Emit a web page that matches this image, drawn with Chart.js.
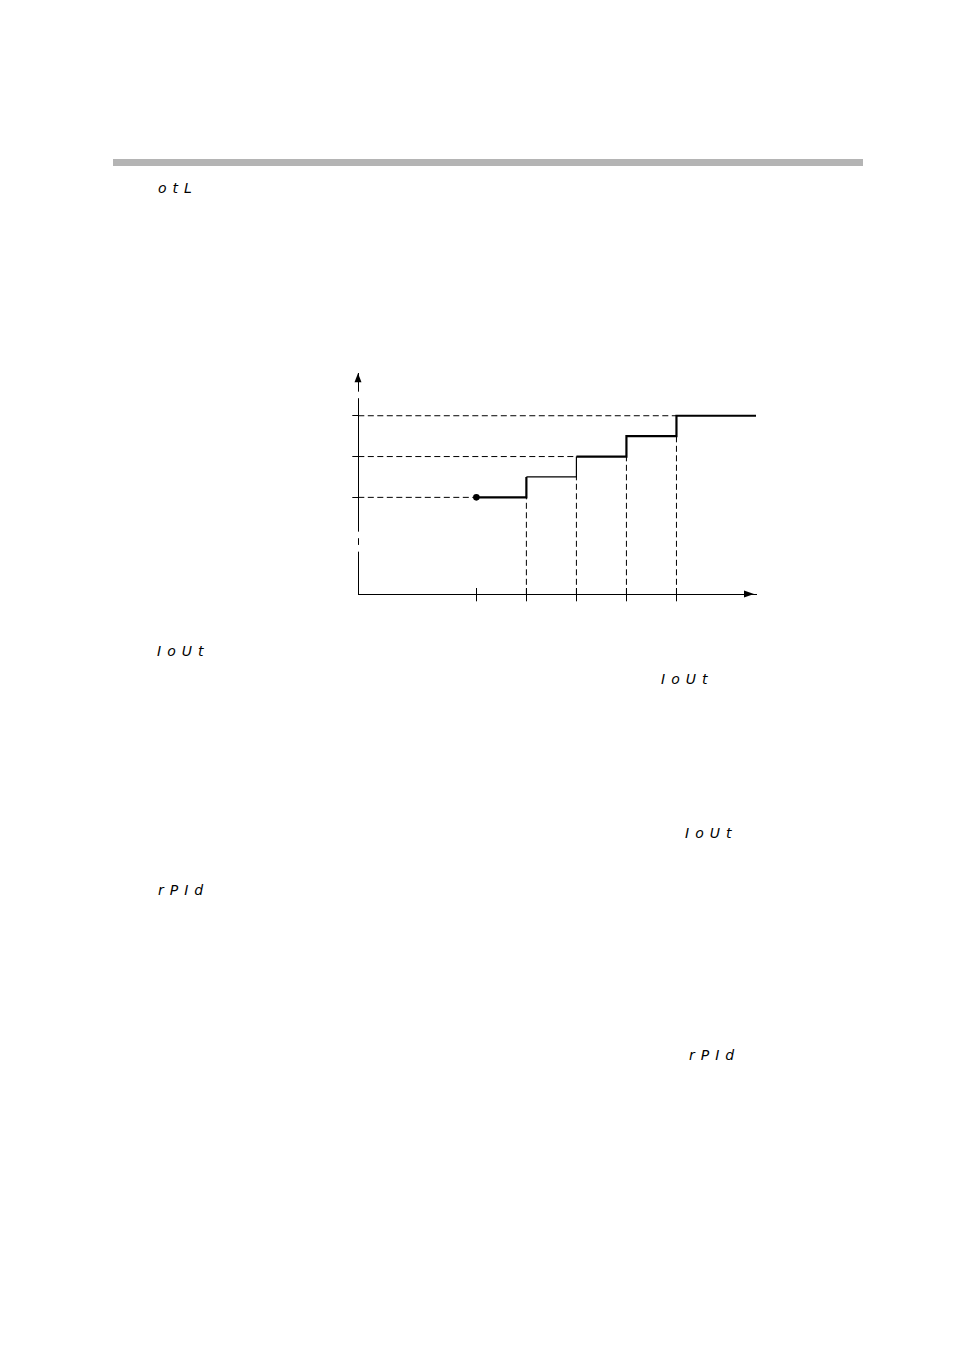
<!DOCTYPE html>
<html>
<head>
<meta charset="utf-8">
<script src="https://cdn.jsdelivr.net/npm/chart.js@4/dist/chart.umd.min.js"></script>
<style>
  body { margin: 0; background: #fff; width: 954px; height: 1351px; position: relative; overflow: hidden; }
  .bar { position: absolute; left: 113px; top: 159px; width: 750px; height: 7px; background: #b4b4b4; }
  .seg { position: absolute; font-family: "DejaVu Sans", sans-serif; font-style: italic; font-size: 14px;
         line-height: 1; letter-spacing: 6px; color: #000; white-space: nowrap; }
  #wrap { position: absolute; left: 300px; top: 360px; width: 480px; height: 260px; }
</style>
</head>
<body>
<div class="bar"></div>
<div class="seg" style="left:158px;top:181px">otL</div>
<div class="seg" style="left:157px;top:644px">IoUt</div>
<div class="seg" style="left:661px;top:672px">IoUt</div>
<div class="seg" style="left:685px;top:826px">IoUt</div>
<div class="seg" style="left:158px;top:883px">rPId</div>
<div class="seg" style="left:689px;top:1048px">rPId</div>
<div id="wrap"><canvas id="chart" width="480" height="260"></canvas></div>
<script>
// step output: x positions of the steps and the level reached at each
const stepX = [2.36, 3.36, 4.36, 5.36, 6.36, 7.95];
const stepY = [4.75, 5.75, 6.75, 7.75, 8.75, 8.75];
const xTicks = [2.36, 3.36, 4.36, 5.36, 6.36];
const yTicks = [4.75, 6.75, 8.75];
const xMax = 7.95;
const yMax = 10.83;

const dash = [6, 3.5];

// horizontal guides from the y axis to where the output reaches that level
const hGuides = yTicks.map(lv => {
  const i = stepY.indexOf(lv);
  return [{ x: 0, y: lv }, { x: stepX[i], y: lv }];
});
// vertical guides from the x axis up to the level just before each step
const vGuides = xTicks.slice(1).map((x, k) => [{ x: x, y: 0 }, { x: x, y: stepY[k] }]);

const guideSet = pts => ({
  data: pts, borderColor: '#000', borderWidth: 1, borderDash: dash,
  pointRadius: 0, fill: false, tension: 0
});

const datasets = [
  ...hGuides.map(guideSet),
  ...vGuides.map(guideSet),
  {
    data: stepX.map((x, i) => ({ x: x, y: stepY[i] })),
    stepped: true,
    borderColor: '#000',
    borderWidth: 2.2,
    segment: { borderWidth: c => (c.p0DataIndex === 1 ? 1.2 : 2.2) },
    pointRadius: stepX.map((_, i) => (i === 0 ? 3.3 : 0)),
    pointBackgroundColor: '#000',
    pointBorderWidth: 0,
    fill: false
  }
];

// gaps in the y axis line (value ranges)
const yBreaks = [[9.61, 9.93], [2.75, 3.07], [2.09, 2.42]];

const axisDecor = {
  id: 'axisDecor',
  afterDraw(chart) {
    const { ctx, chartArea: a, scales: { x, y } } = chart;
    const x0 = Math.round(x.getPixelForValue(0));
    const y0 = Math.round(y.getPixelForValue(0));
    ctx.save();
    ctx.fillStyle = '#fff';
    yBreaks.forEach(([lo, hi]) => {
      const top = y.getPixelForValue(hi), bot = y.getPixelForValue(lo);
      ctx.fillRect(x0 - 2, top, 4, bot - top);
    });
    ctx.fillStyle = '#000';
    // arrow heads
    ctx.beginPath();
    ctx.moveTo(x0, a.top);
    ctx.lineTo(x0 - 3.5, a.top + 9);
    ctx.lineTo(x0 + 3.5, a.top + 9);
    ctx.closePath();
    ctx.fill();
    ctx.beginPath();
    ctx.moveTo(a.right - 2, y0);
    ctx.lineTo(a.right - 12, y0 - 3.5);
    ctx.lineTo(a.right - 12, y0 + 3.5);
    ctx.closePath();
    ctx.fill();
    // upper half of the x tick marks
    ctx.strokeStyle = '#000';
    ctx.lineWidth = 1;
    ctx.beginPath();
    xTicks.forEach(v => {
      const px = Math.round(x.getPixelForValue(v)) + 0.5;
      ctx.moveTo(px, y0 - 6);
      ctx.lineTo(px, y0);
    });
    ctx.stroke();
    ctx.restore();
  }
};

new Chart(document.getElementById('chart').getContext('2d'), {
  type: 'line',
  data: { datasets: datasets },
  options: {
    responsive: false,
    animation: false,
    layout: { padding: { left: 52.3, top: 13.3, right: 24, bottom: 18.7 } },
    plugins: { legend: { display: false }, tooltip: { enabled: false } },
    scales: {
      x: {
        type: 'linear', min: 0, max: xMax,
        afterBuildTicks: s => { s.ticks = xTicks.map(v => ({ value: v })); },
        ticks: { display: false },
        grid: { drawOnChartArea: false, drawTicks: true, tickLength: 7, color: '#000', lineWidth: 1 },
        border: { display: true, color: '#000', width: 1 }
      },
      y: {
        type: 'linear', min: 0, max: yMax,
        afterBuildTicks: s => { s.ticks = yTicks.map(v => ({ value: v })); },
        ticks: { display: false },
        grid: { drawOnChartArea: false, drawTicks: true, tickLength: 6, color: '#000', lineWidth: 1 },
        border: { display: true, color: '#000', width: 1 }
      }
    }
  },
  plugins: [axisDecor]
});
</script>
</body>
</html>
